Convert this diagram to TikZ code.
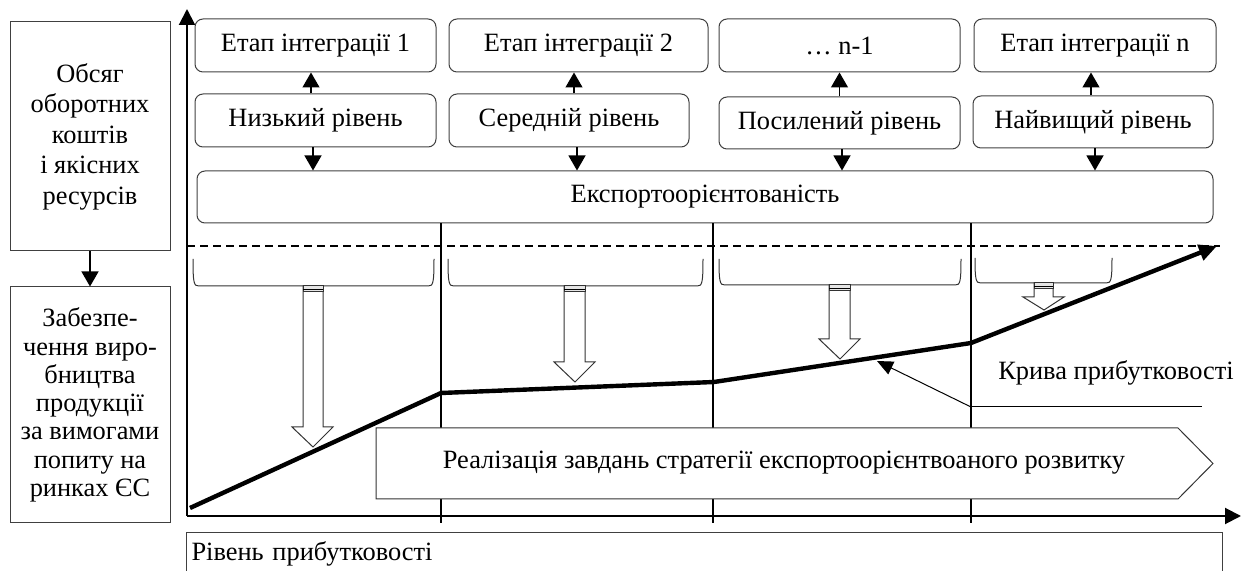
\documentclass[tikz,border=0pt]{standalone}
\usepackage{fontspec}
\setmainfont{Liberation Serif}
\usetikzlibrary{arrows.meta}
\newcommand{\dfont}{\fontsize{13.2}{15.3}\selectfont}

\tikzset{
  etap/.style={draw=black!75, line width=0.5pt, rounded corners=4pt, minimum height=26.5pt, inner sep=0pt, font=\dfont},
  lbox/.style={draw=black!75, line width=0.5pt, minimum width=80pt, inner sep=0pt, align=center},
  arr/.style={line width=0.6pt, -{Triangle[length=7.5pt,width=8.5pt]}},
  axis/.style={line width=1pt, -{Triangle[length=8pt,width=8pt]}},
  secline/.style={line width=0.8pt},
  brk/.style={line width=0.5pt, draw=black!80},
  hollow/.style={draw=black!80, line width=0.5pt, fill=white},
  band/.style={draw=black!80, line width=0.5pt, fill=black!10},
  curve/.style={line width=2.2pt, -{Triangle[length=9pt,width=8pt]}},
}

\begin{document}
\begin{tikzpicture}[x=0.5pt,y=0.5pt,yscale=-1,xscale=1]
\useasboundingbox (0,0) rectangle (1244,571);

%Left boxes
\node[lbox, minimum height=114.5pt, font=\fontsize{13.2}{15.25}\selectfont] (obsyag) at (90,136.5) {Обсяг\\оборотних\\коштів\\і якісних\\ресурсів};
\node[lbox, minimum height=118pt, font=\fontsize{13.2}{14.15}\selectfont] (zabezp) at (90,405) {Забезпе-\\чення виро-\\бництва\\продукції\\за вимогами\\попиту на\\ринках ЄС};
\draw[arr] (obsyag) -- (zabezp);

%Axes
\coordinate (O) at (187,516);
\coordinate (ytop) at (187,9);
\coordinate (xend) at (1241,516);
\draw[axis] (O) -- (ytop);
\draw[axis] (O) -- (xend);

%Stages of integration
\node[etap, minimum width=120.5pt] (etap1) at (315.5,45.5) {Етап інтеграції 1};
\node[etap, minimum width=129.5pt] (etap2) at (578.5,45.5) {Етап інтеграції 2};
\node[etap, minimum width=120.5pt] (etap3) at (839.5,45.5) {… n-1};
\node[etap, minimum width=121pt] (etap4) at (1095,45.5) {Етап інтеграції n};

%Levels
\node[etap, minimum width=120.5pt] (rivn1) at (315.5,120.5) {Низький рівень};
\node[etap, minimum width=120pt] (rivn2) at (569,120.5) {Середній рівень};
\node[etap, minimum width=120.5pt, minimum height=26pt] (rivn3) at (839.5,123) {Посилений рівень};
\node[etap, minimum width=120pt, minimum height=26pt] (rivn4) at (1093,122) {Найвищий рівень};

% Text Node
\node[etap, minimum width=508pt, minimum height=26pt] (eksp) at (705,197) {Експортоорієнтованість};

%Arrows up
\draw[arr] ([xshift=-2.25pt]rivn1.north) -- ([xshift=-2.25pt]etap1.south);
\draw[arr] ([xshift=2.5pt]rivn2.north) -- ([xshift=-2.25pt]etap2.south);
\draw[arr] (rivn3.north) -- (etap3.south);
\draw[arr] ([xshift=-1pt]rivn4.north) -- ([xshift=-2pt]etap4.south);
%Arrows down
\draw[arr] ([xshift=-1.25pt]rivn1.south) -- ([xshift=-1.25pt]rivn1.south |- eksp.north);
\draw[arr] ([xshift=4pt]rivn2.south) -- ([xshift=4pt]rivn2.south |- eksp.north);
\draw[arr] ([xshift=1.25pt]rivn3.south) -- ([xshift=1.25pt]rivn3.south |- eksp.north);
\draw[arr] ([xshift=1pt]rivn4.south) -- ([xshift=1pt]rivn4.south |- eksp.north);

%Straight Lines
\coordinate (s1) at (441,523);
\coordinate (s2) at (713,523);
\coordinate (s3) at (971,523);
\draw[secline] (s1 |- eksp.south) -- (s1);
\draw[secline] (s2 |- eksp.south) -- (s2);
\draw[secline] (s3 |- eksp.south) -- (s3);

%Dashed line
\coordinate (d0) at (187,246);
\coordinate (d1) at (1220,246);
\draw[line width=0.8pt, dash pattern=on 4pt off 2.5pt] (d0) -- (d1);

%Brackets
\draw[brk] (193,259) .. controls (193,284) and (194,286) .. (199,286) -- (428,286) .. controls (433,286) and (434,284) .. (434,259);
\draw[brk] (448,259) .. controls (448,284) and (449,286) .. (454,286) -- (697,286) .. controls (702,286) and (703,284) .. (703,259);
\draw[brk] (719,259) .. controls (719,283) and (720,285) .. (725,285) -- (955,285) .. controls (960,285) and (961,283) .. (961,259);
\draw[brk] (975,258) .. controls (975,281) and (976,283) .. (981,283) -- (1106,283) .. controls (1111,283) and (1112,281) .. (1112,258);

%Shape: Pentagon
\draw[hollow] (376,428) -- (1178,428) -- (1213,463.5) -- (1178,499) -- (376,499) -- cycle;
% Text Node
\node[font=\dfont, inner sep=0pt] (realiz) at (784,463) {Реалізація завдань стратегії експортоорієнтвоаного розвитку};

%Profit curve
\coordinate (c0) at (190,508);
\coordinate (c1) at (441,393);
\coordinate (c2) at (714,382);
\coordinate (c3) at (971,343);
\coordinate (c4) at (1217,246);
\draw[curve] (c0) -- (c1) -- (c2) -- (c3) -- (c4);

%Block arrows
\draw[hollow] (303,286) -- (323,286) -- (323,427) -- (333,427) -- (313,447) -- (292,427) -- (303,427) -- cycle;
\draw[band] (303,286) rectangle (323,292);
\draw[line width=0.4pt] (303,289) -- (323,289);
\draw[hollow] (564,286) -- (585,286) -- (585,362) -- (595,362) -- (575,382) -- (554,362) -- (564,362) -- cycle;
\draw[band] (564,286) rectangle (585,292);
\draw[line width=0.4pt] (564,289) -- (585,289);
\draw[hollow] (829,285) -- (850,285) -- (850,339) -- (860,339) -- (840,359) -- (819,339) -- (829,339) -- cycle;
\draw[band] (829,285) rectangle (850,291);
\draw[line width=0.4pt] (829,288) -- (850,288);
\draw[hollow] (1034,283) -- (1053,283) -- (1053,297) -- (1064,297) -- (1044,310) -- (1023,297) -- (1034,297) -- cycle;
\draw[band] (1034,283) rectangle (1053,289);
\draw[line width=0.4pt] (1034,286) -- (1053,286);

%Pointer to curve
\coordinate (lblcorner) at (971,407);
\coordinate (lblend) at (1202,407);
\coordinate (lbltip) at (877,361);
\draw[line width=0.5pt] (lblcorner) -- (lblend);
\draw[line width=0.5pt, -{Triangle[length=8pt,width=7pt]}] (lblcorner) -- (lbltip);
% Text Node
\node[font=\dfont, inner sep=0pt] (kryva) at (1116,373) {Крива прибутковості};

%Bottom box
\node[draw=black!75, line width=0.5pt, anchor=north west, text width=513pt, inner xsep=2.5pt, inner ysep=0pt, minimum height=21.5pt, align=left, font=\dfont] (riven) at (186,532) {Рівень прибутковості};
\end{tikzpicture}
\end{document}
